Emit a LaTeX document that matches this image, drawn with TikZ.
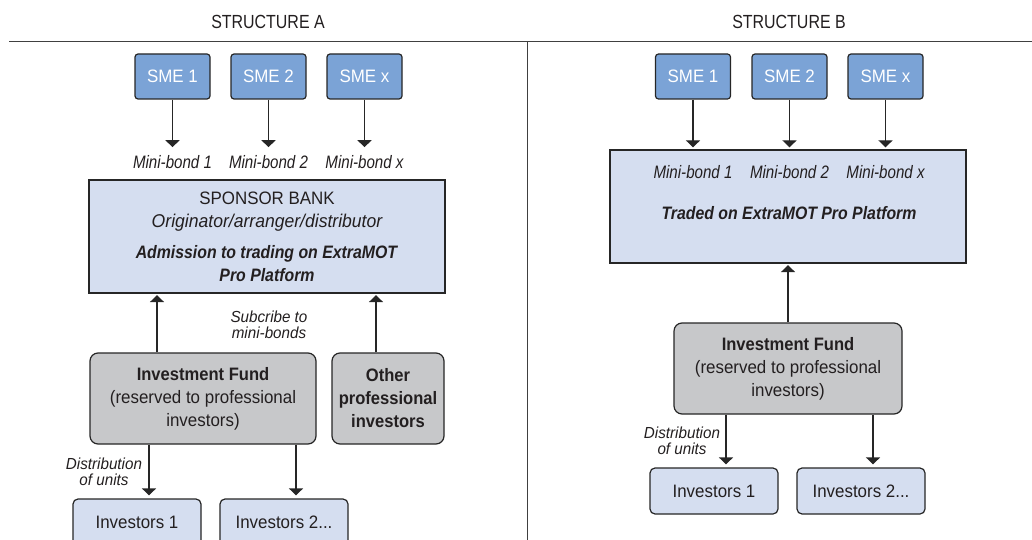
\documentclass[tikz,border=0pt]{standalone}
\usepackage{fontspec}
\setmainfont{Liberation Sans}[UprightFeatures={FakeStretch=0.94},BoldFeatures={FakeStretch=0.92},
  ItalicFeatures={FakeStretch=0.84},BoldItalicFeatures={FakeStretch=0.88}]
\newfontfamily\titlefont{Liberation Sans}[FakeStretch=0.84]
\newfontfamily\notefont{Liberation Sans}[FakeStretch=0.95]
\usepackage{tikz}
\usepackage{xcolor}
\usetikzlibrary{arrows.meta}
\definecolor{box_sme}{HTML}{7BA3D6}
\definecolor{box_light}{HTML}{D5DEF0}
\definecolor{box_fund}{HTML}{C7C8CA}
\definecolor{ink}{HTML}{231F20}
\colorlet{edge_line}{black!85}
\colorlet{rule_col}{black!75}
\tikzset{
    box_base/.style={draw=edge_line,line width=1.2pt,inner sep=2pt,align=center,text=ink,font=\fontsize{18}{23}\selectfont},
    sme_box/.style={box_base,fill=box_sme,text=white,rounded corners=3pt,minimum width=75pt,minimum height=45pt},
    info_box/.style={box_base,fill=box_light,minimum width=356pt,minimum height=113pt},
    fund_box/.style={box_base,fill=box_fund,rounded corners=8pt,minimum height=91pt},
    inv_box/.style={box_base,fill=box_light,rounded corners=5pt,minimum width=128pt,minimum height=46pt},
    bond_text/.style={inner sep=0pt,text=ink,font=\fontsize{18}{22}\selectfont\itshape},
    note_text/.style={inner sep=0pt,align=center,text=ink,font=\notefont\fontsize{16}{16}\selectfont\itshape},
    title_text/.style={inner sep=0pt,text=ink,font=\titlefont\fontsize{19}{22}\selectfont},
    rule_line/.style={rule_col,line width=1pt},
    flow_arrow/.style={-{Triangle[length=7pt,width=14pt]},edge_line,line width=1.2pt},
}

\begin{document}
\begin{tikzpicture}[x=1pt,y=-1pt]
  \useasboundingbox (0,0) rectangle (1032,540);
  \clip (0,0) rectangle (1032,540);
  % header rule and divider
  \coordinate (rule_l) at (9,42);
  \coordinate (rule_r) at (1032,42);
  \coordinate (div_t) at (527,42);
  \coordinate (div_b) at (527,540);
  \draw[rule_line] (rule_l) -- (rule_r);
  \draw[rule_line] (div_t) -- (div_b);
  \node[title_text] (titleA) at (268,22) {STRUCTURE A};
  \node[title_text] (titleB) at (789,22) {STRUCTURE B};

  % structure A
  \node[sme_box] (smeA1) at (172.5,76.5) {SME 1};
  \node[sme_box] (smeA2) at (268.5,76.5) {SME 2};
  \node[sme_box] (smeAx) at (364.5,76.5) {SME x};
  \node[bond_text] (bondA1) at (172.5,162) {Mini-bond 1};
  \node[bond_text] (bondA2) at (268.5,162) {Mini-bond 2};
  \node[bond_text] (bondAx) at (364.5,162) {Mini-bond x};
  \draw[flow_arrow,shorten >=8pt] (smeA1) -- (bondA1);
  \draw[flow_arrow,shorten >=8pt] (smeA2) -- (bondA2);
  \draw[flow_arrow,shorten >=8pt] (smeAx) -- (bondAx);
  \node[info_box] (sponsor) at (267,236.5) {SPONSOR BANK\\ {\notefont\fontsize{18.5}{23}\selectfont\itshape Originator/arranger/distributor}\\[8pt]
    \textbf{\textit{Admission to trading on ExtraMOT}}\\ \textbf{\textit{Pro Platform}}};
  \node[fund_box,minimum width=226pt] (fundA) at (203,398.5) {\textbf{Investment Fund}\\(reserved to professional\\investors)};
  \node[fund_box,minimum width=112pt] (other) at (388,398.5) {\textbf{Other}\\ \textbf{professional}\\ \textbf{investors}};
  \draw[flow_arrow,shorten >=1.5pt] ([xshift=-46pt]fundA.north) -- ([xshift=-46pt]fundA.north |- sponsor.south);
  \draw[flow_arrow,shorten >=1.5pt] ([xshift=-12pt]other.north) -- ([xshift=-12pt]other.north |- sponsor.south);
  \node[note_text] (subscribe) at (269,325) {Subcribe to\\mini-bonds};
  \node[inv_box] (invA1) at (137,522) {Investors 1};
  \node[inv_box] (invA2) at (284,522) {Investors 2...};
  \draw[flow_arrow,shorten >=3pt] ([xshift=12pt]invA1.north |- fundA.south) -- ([xshift=12pt]invA1.north);
  \draw[flow_arrow,shorten >=3pt] ([xshift=12pt]invA2.north |- fundA.south) -- ([xshift=12pt]invA2.north);
  \node[note_text] (distribA) at (104,471.5) {Distribution\\of units};

  % structure B
  \node[sme_box] (smeB1) at (693,76.5) {SME 1};
  \node[sme_box] (smeB2) at (789.5,76.5) {SME 2};
  \node[sme_box] (smeBx) at (885.5,76.5) {SME x};
  \node[info_box] (platform) at (788,206.5) {};
  \node[bond_text] (bondB1) at (693,172) {Mini-bond 1};
  \node[bond_text] (bondB2) at (789.5,172) {Mini-bond 2};
  \node[bond_text] (bondBx) at (885.5,172) {Mini-bond x};
  \node[bond_text,font=\fontsize{18}{22}\selectfont\bfseries\itshape] (traded) at (789,213) {Traded on ExtraMOT Pro Platform};
  \draw[flow_arrow,shorten >=2pt] (smeB1) -- (smeB1 |- platform.north);
  \draw[flow_arrow,shorten >=2pt] (smeB2) -- (smeB2 |- platform.north);
  \draw[flow_arrow,shorten >=2pt] (smeBx) -- (smeBx |- platform.north);
  \node[fund_box,minimum width=228pt] (fundB) at (788,368.5) {\textbf{Investment Fund}\\(reserved to professional\\investors)};
  \draw[flow_arrow,shorten >=1.5pt] (fundB) -- (fundB |- platform.south);
  \node[inv_box] (invB1) at (714,491) {Investors 1};
  \node[inv_box] (invB2) at (861,491) {Investors 2...};
  \draw[flow_arrow,shorten >=3pt] ([xshift=12pt]invB1.north |- fundB.south) -- ([xshift=12pt]invB1.north);
  \draw[flow_arrow,shorten >=3pt] ([xshift=12pt]invB2.north |- fundB.south) -- ([xshift=12pt]invB2.north);
  \node[note_text] (distribB) at (682,441) {Distribution\\of units};
\end{tikzpicture}
\end{document}
